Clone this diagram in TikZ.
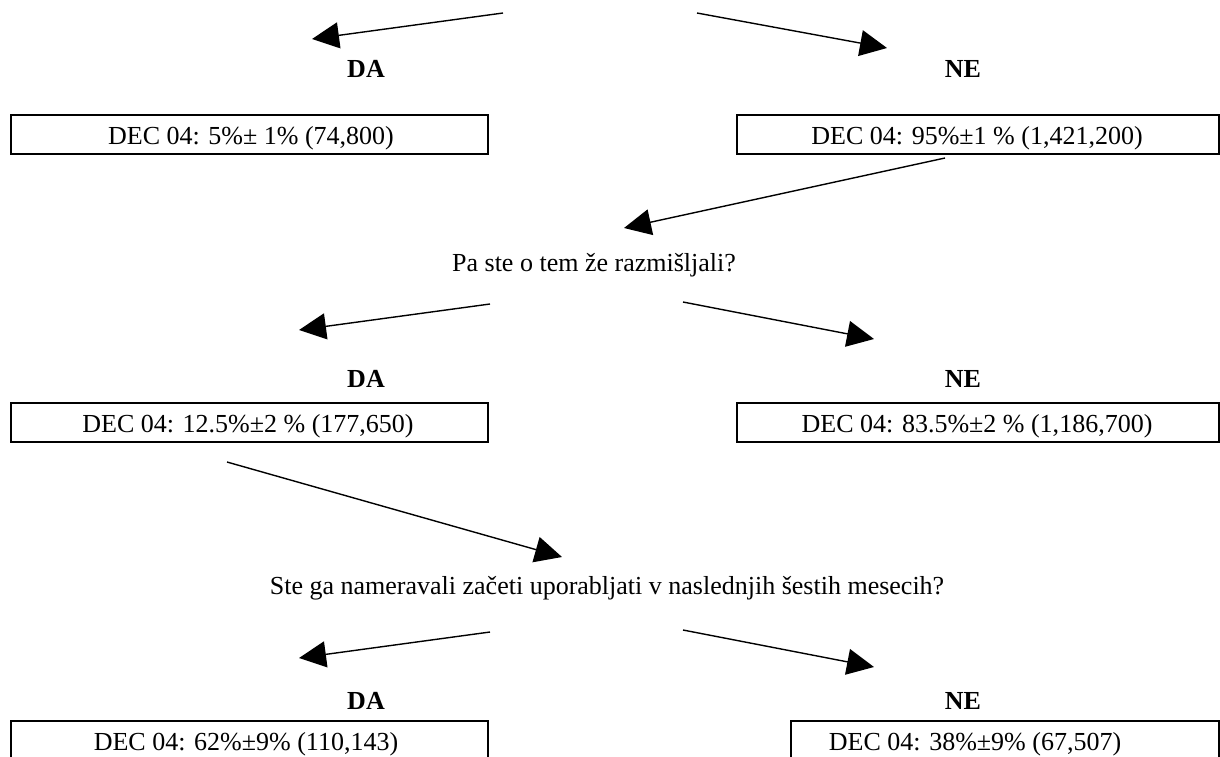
\documentclass[tikz,border=0pt]{standalone}
\usepackage{fontspec}
\setmainfont{Liberation Serif}
\usetikzlibrary{arrows.meta}
\begin{document}
\begin{tikzpicture}[x=1pt,y=-1pt,
  every node/.style={font=\fontsize{26}{30}\selectfont, inner sep=0pt},
  box/.style={draw=black, line width=1.8pt, minimum height=39pt, anchor=north west},
  lbl/.style={anchor=base},
  ans/.style={anchor=base, font=\fontsize{26}{30}\selectfont\bfseries},
  arr/.style={line width=1.4pt, -{Triangle[length=27pt,width=26pt]}}
]
\useasboundingbox (0,0) rectangle (1220,756);
\fill[white] (0,0) rectangle (1220,756);

% level 1
\coordinate (s1a) at (503,13);
\coordinate (e1a) at (312,39);
\coordinate (s1b) at (697,13);
\coordinate (e1b) at (887,48);
\draw[arr] (s1a) -- (e1a);
\draw[arr] (s1b) -- (e1b);
\node[ans] (da1) at (366,77) {DA};
\node[ans] (ne1) at (963,77) {NE};
\node[box, minimum width=477pt] (b1) at (10,114) {};
\node[lbl] (t1) at (251,144) {DEC 04: 5\%± 1\% (74,800)};
\node[box, minimum width=482pt] (b2) at (736,114) {};
\node[lbl] (t2) at (977,144) {DEC 04: 95\%±1 \% (1,421,200)};

% question 1
\coordinate (s2) at (945,158);
\coordinate (e2) at (624,228);
\draw[arr] (s2) -- (e2);
\node[lbl] (q1) at (594,271) {Pa ste o tem že razmišljali?};

% level 2
\coordinate (s3a) at (490,304);
\coordinate (e3a) at (299,330);
\coordinate (s3b) at (683,302);
\coordinate (e3b) at (874,339);
\draw[arr] (s3a) -- (e3a);
\draw[arr] (s3b) -- (e3b);
\node[ans] (da2) at (366,387) {DA};
\node[ans] (ne2) at (963,387) {NE};
\node[box, minimum width=477pt] (b3) at (10,402) {};
\node[lbl] (t3) at (248,432) {DEC 04: 12.5\%±2 \% (177,650)};
\node[box, minimum width=482pt] (b4) at (736,402) {};
\node[lbl] (t4) at (977,432) {DEC 04: 83.5\%±2 \% (1,186,700)};

% question 2
\coordinate (s4) at (227,462);
\coordinate (e4) at (562,557);
\draw[arr] (s4) -- (e4);
\node[lbl] (q2) at (607,594) {Ste ga nameravali začeti uporabljati v naslednjih šestih mesecih?};

% level 3
\coordinate (s5a) at (490,632);
\coordinate (e5a) at (299,658);
\coordinate (s5b) at (683,630);
\coordinate (e5b) at (874,667);
\draw[arr] (s5a) -- (e5a);
\draw[arr] (s5b) -- (e5b);
\node[ans] (da3) at (366,709) {DA};
\node[ans] (ne3) at (963,709) {NE};
\node[box, minimum width=477pt] (b5) at (10,720) {};
\node[lbl] (t5) at (246,750) {DEC 04: 62\%±9\% (110,143)};
\node[box, minimum width=428pt] (b6) at (790,720) {};
\node[lbl] (t6) at (975,750) {DEC 04: 38\%±9\% (67,507)};
\end{tikzpicture}
\end{document}
